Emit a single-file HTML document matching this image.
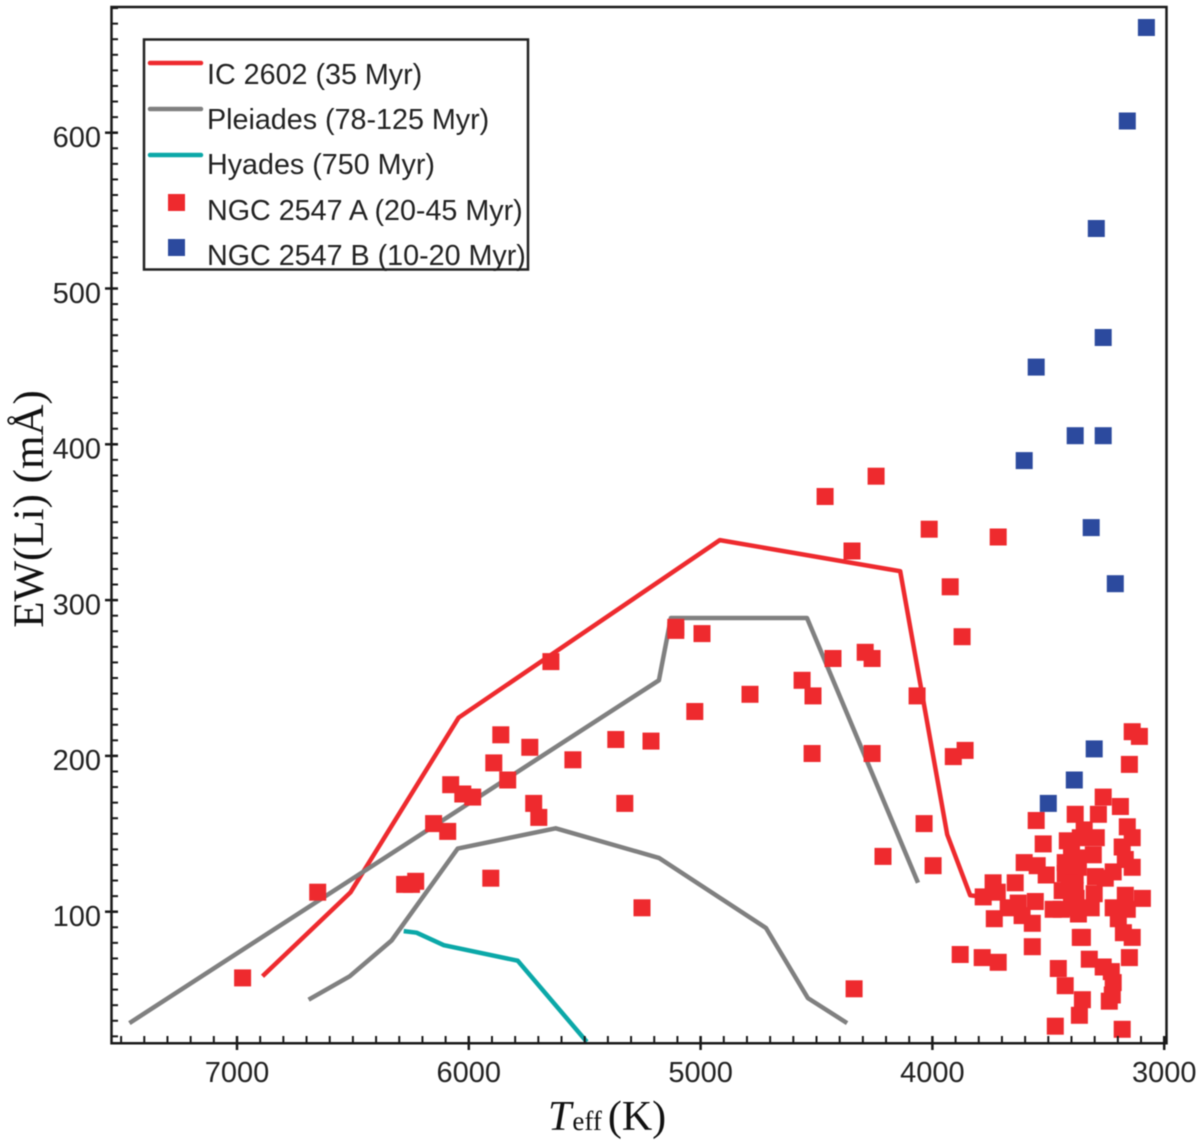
<!DOCTYPE html>
<html>
<head>
<meta charset="utf-8">
<title>Lithium equivalent width vs effective temperature</title>
<style>
html,body{margin:0;padding:0;background:#fff}
svg{display:block;filter:blur(.55px)}
.tick{font-family:"Liberation Sans",sans-serif;font-size:29px;fill:#222}
.leg{font-family:"Liberation Sans",sans-serif;font-size:28.7px;fill:#222}
.title{font-family:"Liberation Serif",serif;fill:#111}
</style>
</head>
<body>
<svg id="chart" width="1200" height="1143" viewBox="0 0 1200 1143" xmlns="http://www.w3.org/2000/svg">
<defs><clipPath id="plot-clip"><rect x="111" y="7" width="1056" height="1036"/></clipPath></defs>
<rect x="0" y="0" width="1200" height="1143" fill="#fff"/>
<g id="series" clip-path="url(#plot-clip)"></g>
<g id="axes"></g>
<text class="title" transform="translate(43,509) rotate(-90)" text-anchor="middle" font-size="43">EW(Li) (mÅ)</text>
<text class="title" x="548" y="1130" font-size="42"><tspan font-style="italic">T</tspan><tspan font-size="27" dx="1">eff</tspan><tspan dx="6">(K)</tspan></text>
<g>
<rect x="144" y="39.5" width="384" height="230" fill="#fff" stroke="#222" stroke-width="2.5"/>
<line x1="150" y1="63" x2="201" y2="63" stroke="#ee2a2e" stroke-width="4.5" stroke-linecap="round"/>
<line x1="150" y1="109" x2="201" y2="109" stroke="#808080" stroke-width="4.5" stroke-linecap="round"/>
<line x1="150" y1="155" x2="201" y2="155" stroke="#0ba8a8" stroke-width="4.5" stroke-linecap="round"/>
<rect x="168" y="194" width="17" height="17" fill="#ee2a2e"/>
<rect x="168" y="239" width="17" height="17" fill="#2c4a9e"/>
<text class="leg" x="207" y="84">IC 2602 (35 Myr)</text>
<text class="leg" x="207" y="129">Pleiades (78-125 Myr)</text>
<text class="leg" x="207" y="174">Hyades (750 Myr)</text>
<text class="leg" x="207" y="220">NGC 2547 A (20-45 Myr)</text>
<text class="leg" x="207" y="265">NGC 2547 B (10-20 Myr)</text>
</g>
</svg>
<script>
var xTickLabels = [7000, 6000, 5000, 4000, 3000];
var yTickLabels = [100, 200, 300, 400, 500, 600];

var ic2602T  = [6890, 6510, 6044, 4917, 4139, 3936, 3837, 3781];
var ic2602EW = [60, 114, 226, 340, 320, 151, 112, 111];

var pleiadesUpperT  = [7464, 5180, 5128, 4541, 4062];
var pleiadesUpperEW = [30, 250, 290, 290, 120];

var pleiadesLowerT  = [6691, 6514, 6333, 6048, 5625, 5180, 4718, 4537, 4368];
var pleiadesLowerEW = [45, 60, 83, 142, 155, 136, 91, 46, 30];

var hyadesT  = [6281, 6225, 6108, 5789, 5491];
var hyadesEW = [89, 88, 80, 70, 18];

var groupAT = [6976,6652,6277,6229,6247,6152,6091,6078,6026,5983,5905,5892,5862,5832,5737,5720,5698,5646,5551,5366,5327,5214,5253,5107,5107,4994,5025,4787,4562,4515,4519,4429,4338,4260,4290,4260,4463,4347,4243,4014,4213,4066,4036,3997,3923,3872,3910,3859,3716,
3138,3107,3150,3263,3189,3384,3284,3552,3159,3138,3345,3522,3418,3362,3293,3181,3306,3604,3548,3427,3375,3509,3168,3138,3220,3297,3254,3427,3384,3738,3643,3720,3781,3440,3384,3302,3168,3094,3673,3630,3556,3733,3613,3569,3479,3444,3384,3315,3220,3159,3198,3176,3138,3569,3880,3785,3716,3362,3353,3150,3323,3263,3457,3228,3220,3427,3237,3224,3353,3366,3470,3181,3400,3370,3410,3380,3390,3400,3370];
var groupAEW = [59,114,119,121,119,158,153,183,177,175,123,197,215,186,207,171,162,262,199,212,171,211,104,284,282,280,230,241,250,240,203,264,52,203,268,264,368,333,381,347,137,240,158,131,310,278,201,205,342,
217,214,196,175,169,164,164,160,156,149,154,145,147,149,149,143,138,133,131,133,136,125,135,130,127,124,123,126,125,120,120,114,111,115,115,113,112,110,104,107,108,97,99,94,103,103,104,104,104,103,97,88,85,79,74,72,69,85,85,72,71,66,65,63,56,54,44,48,45,35,28,26,140,130,120,110,120,105,100];

var groupBT  = [3077,3159,3293,3263,3552,3384,3263,3604,3315,3211,3302,3388,3500];
var groupBEW = [669,609,540,470,451,407,407,391,348,312,206,186,171];

var NS = 'http://www.w3.org/2000/svg';
function xScale(t) { return 237 + (7000 - t) * 0.2318; }
function yScale(v) { return 914 - (v - 100) * 1.558; }
var tickShift = -2.3;
var axes = document.getElementById('axes');
var series = document.getElementById('series');
var INK = '#1a1a1a';

function addLine(parent, x1, y1, x2, y2, w) {
  var l = document.createElementNS(NS, 'line');
  l.setAttribute('x1', x1); l.setAttribute('y1', y1);
  l.setAttribute('x2', x2); l.setAttribute('y2', y2);
  l.setAttribute('stroke', INK); l.setAttribute('stroke-width', w);
  parent.appendChild(l);
  return l;
}
function drawLine(ts, vs, color, name) {
  var p = document.createElementNS(NS, 'polyline');
  var pts = [];
  for (var i = 0; i < ts.length; i++) pts.push(xScale(ts[i]).toFixed(1) + ',' + yScale(vs[i]).toFixed(1));
  p.setAttribute('points', pts.join(' '));
  p.setAttribute('fill', 'none');
  p.setAttribute('stroke', color);
  p.setAttribute('stroke-width', '4.5');
  p.setAttribute('stroke-linejoin', 'round');
  
  
  series.appendChild(p);
}
function drawSquares(ts, vs, color, name) {
  for (var i = 0; i < ts.length; i++) {
    var r = document.createElementNS(NS, 'rect');
    r.setAttribute('x', (xScale(ts[i]) - 8.5).toFixed(1));
    r.setAttribute('y', (yScale(vs[i]) - 8.5).toFixed(1));
    r.setAttribute('width', '17');
    r.setAttribute('height', '17');
    r.setAttribute('fill', color);
    
    
    series.appendChild(r);
  }
}
drawLine(ic2602T, ic2602EW, '#ee2a2e', 'line-ic2602');
drawLine(pleiadesUpperT, pleiadesUpperEW, '#808080', 'line-pleiades-upper');
drawLine(pleiadesLowerT, pleiadesLowerEW, '#808080', 'line-pleiades-lower');
drawLine(hyadesT, hyadesEW, '#0ba8a8', 'line-hyades');
drawSquares(groupAT, groupAEW, '#ee2a2e', 'point-ngc2547a');
drawSquares(groupBT, groupBEW, '#2c4a9e', 'point-ngc2547b');

var frame = document.createElementNS(NS, 'path');
frame.setAttribute('d', 'M111.5 1043.3 L111.5 7 L1166.5 7 L1166.5 1043.3 Z');
frame.setAttribute('fill', 'none');
frame.setAttribute('stroke', INK);
frame.setAttribute('stroke-width', '2.5');


axes.appendChild(frame);

// minor ticks
for (var t = 3000; t <= 7500; t += 100) {
  var mx = xScale(t);
  addLine(axes, mx, 1043, mx, 1036, 2);
}
for (var v = 20; v <= 680; v += 10) {
  var my = yScale(v) + tickShift;
  addLine(axes, 111, my, 118, my, 2);
}
// major ticks + labels
xTickLabels.forEach(function (t) {
  var x = xScale(t);
  addLine(axes, x, 1036, x, 1050, 2.5);
  var el = document.createElementNS(NS, 'text');
  el.setAttribute('class', 'tick');
  el.setAttribute('x', x);
  el.setAttribute('y', 1082);
  el.setAttribute('text-anchor', 'middle');
  
  
  el.textContent = t;
  axes.appendChild(el);
});
yTickLabels.forEach(function (v) {
  var y = yScale(v);
  addLine(axes, 105, y + tickShift, 118, y + tickShift, 2.5);
  var el = document.createElementNS(NS, 'text');
  el.setAttribute('class', 'tick');
  el.setAttribute('x', 101);
  el.setAttribute('y', y + 12);
  el.setAttribute('text-anchor', 'end');
  
  
  el.textContent = v;
  axes.appendChild(el);
});
</script>
</body>
</html>
